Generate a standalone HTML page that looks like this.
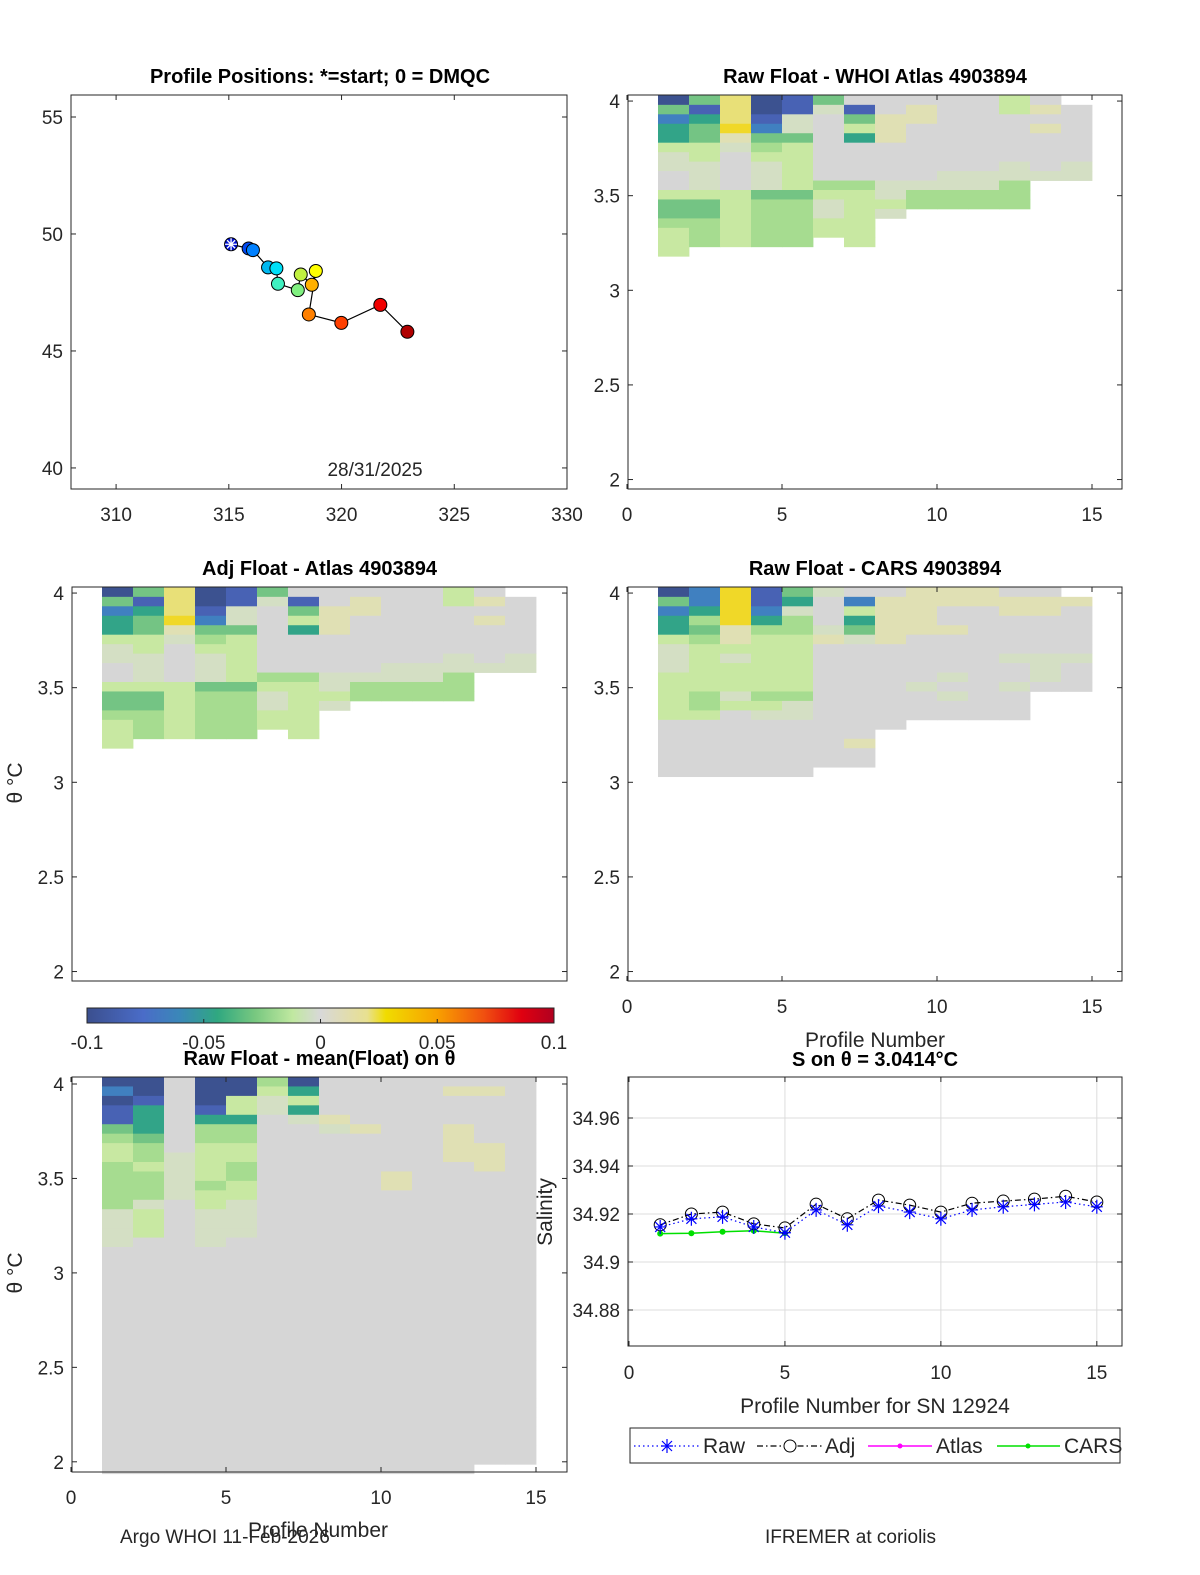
<!DOCTYPE html>
<html><head><meta charset="utf-8"><style>
html,body{margin:0;padding:0;background:#fff;width:1200px;height:1575px;overflow:hidden}
svg{display:block;font-family:"Liberation Sans","DejaVu Sans",sans-serif}
.tk{font-size:19px;fill:#262626}
.ti{font-size:20px;font-weight:bold;fill:#000}
.lb{font-size:21px;fill:#262626}
</style></head><body>
<svg id="fig" width="1200" height="1575" viewBox="0 0 1200 1575" xmlns="http://www.w3.org/2000/svg">
<defs>
<linearGradient id="cbg" x1="0" x2="1" y1="0" y2="0">
<stop offset="0" stop-color="#3b4f8e"/><stop offset="0.12" stop-color="#4a6cc8"/><stop offset="0.2" stop-color="#3a88b8"/><stop offset="0.28" stop-color="#30a880"/><stop offset="0.36" stop-color="#78c880"/><stop offset="0.44" stop-color="#c0e8a0"/><stop offset="0.5" stop-color="#d8d8d8"/><stop offset="0.6" stop-color="#e8e090"/><stop offset="0.64" stop-color="#f0dc00"/><stop offset="0.75" stop-color="#f8a000"/><stop offset="0.85" stop-color="#f05010"/><stop offset="0.93" stop-color="#e00010"/><stop offset="1" stop-color="#b00020"/>
</linearGradient>
</defs>
<g id="layer"></g>
</svg>
<script>
// ---------- data ----------
const trackLon = [315.10,315.88,316.07,316.74,317.11,317.18,318.06,318.19,318.86,318.68,318.55,319.99,321.72,322.92];
const trackLat = [49.56,49.38,49.31,48.57,48.53,47.87,47.60,48.27,48.42,47.83,46.56,46.20,46.97,45.82];
const trackColors = ['#0010d0','#0048f0','#0080ff','#00b8f0','#00e0f8','#40f0c0','#80f080','#c0f040','#ffff00','#ffb000','#ff8000','#ff4000','#f00000','#b00000'];
const lonTicks = [310,315,320,325,330];
const latTicks = [40,45,50,55];
const thetaTicks = [2,2.5,3,3.5,4];
const thetaTickLabels = ['2','2.5','3','3.5','4'];
const profTicks = [0,5,10,15];
const atlasCols = ['DGbTTlppqqlGGglll','GBTGGllppplGGggg','YYYSypqqqqllllll','DDBbGglpppGggggg','BBppGlllllGggggg','Gpqqqqqqqglppll','qBGlTqqqqgllllll','qqyyyqqqqpplp','qyyqqqqqqpgg','qqqqqqqqppgg','qqqqqqqqppgg','llqqqqqppggg','qyqyqqqqp','_qqqqqqpp'];
const carsCols = ['DGbTTlppplllllqqqqqq','bbTgGglllllgglqqqqqq','SSSSyylplllplqqqqqqq','BBbTgllllllglpqqqqqq','GTpggllllllgppqqqqqq','pqqqpyqqqqqqqqqqqqq','qblTGpqqqqqqqqqqyqq','qyyyyyqqqqqqqqq','yyyyyqqqqqpqqq','yyqqyqqqqpqpqq','yyqqqqqqqqqqqq','qyyqqqqpqqpqqq','qyyqqqqpppq','_yqqqqqpqqq'];
const meanColsTop = ['DbDBBGgllgggggppppq','DDBTTTGgglgggplllq','qqqqqqqqppppp','DDDBTggllllgllpppp','DDllTggllggllpppp','glppqq','DTlTpq','qqqqypq','qqqqqy','qqqqqqqqqqyy','qqqqq','qyqqqyyyyq','qyqqqqqyyyq','qqqqqqqqqq'];
const meanColsLen = [42,42,42,42,42,42,42,42,42,42,42,42,41,41];
const profiles = [1,2,3,4,5,6,7,8,9,10,11,12,13,14,15];
const rawSal = [34.9146,34.918,34.9188,34.9146,34.9122,34.9217,34.9155,34.9233,34.9208,34.918,34.9217,34.923,34.924,34.925,34.923];
const adjSal = [34.9155,34.920,34.9208,34.9159,34.9142,34.9241,34.918,34.9258,34.9237,34.9208,34.9245,34.9254,34.9262,34.9274,34.925];
const carsSal = [34.9118,34.912,34.9126,34.913,34.912];
const salTicks = [34.88,34.9,34.92,34.94,34.96];
const salTickLabels = ['34.88','34.9','34.92','34.94','34.96'];
const colorCodes = {D:'#3c5290',B:'#4862b4',b:'#4080c0',T:'#32a488',G:'#74c484',g:'#a6dc90',l:'#c8e8a2',p:'#d4dfc4',q:'#d6d6d6',y:'#e0e0b4',Y:'#e8e078',S:'#f0d828'};

// ---------- helpers ----------
const NS='http://www.w3.org/2000/svg';
const layer=document.getElementById('layer');
function mk(tag,attrs,parent){const e=document.createElementNS(NS,tag);for(const k in attrs)e.setAttribute(k,attrs[k]);(parent||layer).appendChild(e);return e;}
function txt(x,y,s,cls,anchor,parent){const t=mk('text',{x:x,y:y,class:cls,'text-anchor':anchor||'middle'},parent);t.textContent=s;return t;}
function lin(d0,d1,r0,r1){return v=>r0+(v-d0)*(r1-r0)/(d1-d0);}

function axesBox(x0,y0,x1,y1,name){
  const g=mk('g',{});
  
  
  mk('rect',{x:x0,y:y0,width:x1-x0,height:y1-y0,fill:'none',stroke:'#262626','stroke-width':1},g);
  return g;
}
function yTicks(g,x0,x1,ys,labels,sy,name){
  ys.forEach((v,i)=>{const y=sy(v);
    mk('line',{x1:x0,x2:x0+5,y1:y,y2:y,stroke:'#262626'},g);
    mk('line',{x1:x1,x2:x1-5,y1:y,y2:y,stroke:'#262626'},g);
    const t=txt(x0-8,y+7,labels[i],'tk','end',g);
    
    
  });
}
function xTicks(g,y0,y1,xs,sx,ly,name){
  xs.forEach(v=>{const x=sx(v);
    mk('line',{x1:x,x2:x,y1:y1,y2:y1-5,stroke:'#262626'},g);
    mk('line',{x1:x,x2:x,y1:y0,y2:y0+5,stroke:'#262626'},g);
    const t=txt(x,ly,String(v),'tk','middle',g);
    
    
  });
}
function heat(g,cols,sx,sy,top,lens,name){
  cols.forEach((col,i)=>{
    const n=lens?lens[i]:col.length;
    for(let r=0;r<n;r++){
      const c=r<col.length?col[r]:'q';
      if(c==='_')continue;
      const x0=sx(i+1),x1=sx(i+2),ya=sy(top-0.05*r),yb=sy(top-0.05*(r+1));
      const rc=mk('rect',{x:x0,y:ya,width:x1-x0+0.4,height:yb-ya+0.4,fill:colorCodes[c]},g);
      
      
    }
  });
}

// ---------- panel 1 ----------
{
  const sx=lin(308,330,71,567), sy=lin(39.1,55.94,489,95);
  const g=axesBox(71,95,567,489,'positions-axes');
  xTicks(g,95,489,lonTicks,sx,521,'lon');
  yTicks(g,71,567,latTicks,latTicks.map(String),sy,'lat');
  let d='';
  const order=[0,1,2,3,4,5,6,7,9,8,10,11,12,13];
  order.forEach((k,i)=>{d+=(i?'L':'M')+sx(trackLon[k])+' '+sy(trackLat[k]);});
  const p=mk('path',{d:d,fill:'none',stroke:'#000','stroke-width':1.2},g);
  
  
  trackLon.forEach((lo,i)=>{
    const c=mk('circle',{cx:sx(lo),cy:sy(trackLat[i]),r:6.5,fill:trackColors[i],stroke:'#000','stroke-width':1},g);
    
    
  });
  const cx=sx(trackLon[0]),cy=sy(trackLat[0]);
  mk('path',{d:`M${cx-6} ${cy}H${cx+6}M${cx} ${cy-6}V${cy+6}M${cx-4} ${cy-4}L${cx+4} ${cy+4}M${cx-4} ${cy+4}L${cx+4} ${cy-4}`,stroke:'#fff','stroke-width':1.3},g);
  const dt=txt(375,476,'28/31/2025','tk','middle',g);
  
  
  const t=txt(320,83,'Profile Positions: *=start; 0 = DMQC','ti','middle');
  
  
}

// ---------- heatmap panels ----------
function heatPanel(x0,y0,x1,y1,cols,title,name,xlabY,lens,th0,th1,top){
  const sy=lin(th1,th0,y0,y1);
  const sxx=lin(0,16,x0-1,x0-1+496);
  const g=axesBox(x0,y0,x1,y1,name+'-axes');
  heat(g,cols,sxx,sy,top,lens,name);
  mk('rect',{x:x0,y:y0,width:x1-x0,height:y1-y0,fill:'none',stroke:'#262626','stroke-width':1},g);
  yTicks(g,x0,x1,thetaTicks,thetaTickLabels,sy,name+'-theta');
  if(xlabY) xTicks(g,y0,y1,profTicks,sxx,xlabY,name+'-profile');
  const t=txt((x0+x1)/2,y0-12,title,'ti','middle');
  
  
  return g;
}
heatPanel(628,95,1122,489,atlasCols,'Raw Float - WHOI Atlas  4903894','raw-atlas',521,null,1.95,4.032,4.03);
heatPanel(72,587,567,981,atlasCols,'Adj Float - Atlas  4903894','adj-atlas',0,null,1.95,4.032,4.03);
heatPanel(628,587,1122,981,carsCols,'Raw Float - CARS  4903894','raw-cars',1013,null,1.95,4.032,4.03);
heatPanel(72,1077,567,1472,meanColsTop,'Raw Float - mean(Float) on θ','raw-mean',1504,meanColsLen,1.946,4.037,4.037);

[[22,783],[22,1273]].forEach(p=>{
  const t=txt(p[0],p[1],'θ °C','lb','middle');
  t.setAttribute('transform',`rotate(-90 ${p[0]} ${p[1]})`);
  
  
});
{
  const t1=txt(875,1047,'Profile Number','lb','middle');
  
  
  const t2=txt(318,1537,'Profile Number','lb','middle');
  
  
}

// ---------- colorbar ----------
{
  const g=mk('g',{});
  
  
  mk('rect',{x:87,y:1008,width:467,height:15,fill:'url(#cbg)',stroke:'#262626','stroke-width':1},g);
  const cbTicks=[-0.1,-0.05,0,0.05,0.1], cbLabels=['-0.1','-0.05','0','0.05','0.1'];
  const sc=lin(-0.1,0.1,87,554);
  cbTicks.forEach((v,i)=>{
    mk('line',{x1:sc(v),x2:sc(v),y1:1023,y2:1019,stroke:'#262626'},g);
    const t=txt(sc(v),1049,cbLabels[i],'tk','middle',g);
    t.setAttribute('font-size','17');
    
    
  });
}

// ---------- salinity panel ----------
{
  const x0=628,y0=1077,x1=1122,y1=1346;
  const sx=lin(0,16,629,1128), sy=lin(34.92,34.94,1214,1166);
  const g=axesBox(x0,y0,x1,y1,'salinity-axes');
  profTicks.forEach(v=>mk('line',{x1:sx(v),x2:sx(v),y1:y0,y2:y1,stroke:'#dcdcdc'},g));
  salTicks.forEach(v=>mk('line',{x1:x0,x2:x1,y1:sy(v),y2:sy(v),stroke:'#dcdcdc'},g));
  mk('rect',{x:x0,y:y0,width:x1-x0,height:y1-y0,fill:'none',stroke:'#262626'},g);
  yTicks(g,x0,x1,salTicks,salTickLabels,sy,'salinity');
  xTicks(g,y0,y1,profTicks,sx,1379,'sal-profile');
  const path=(xs,ys)=>xs.map((x,i)=>(i?'L':'M')+sx(x)+' '+sy(ys[i])).join('');
  const cp=mk('path',{d:path(profiles.slice(0,carsSal.length),carsSal),fill:'none',stroke:'#00e000','stroke-width':1.5},g);
  
  
  carsSal.forEach((v,i)=>{const c=mk('circle',{cx:sx(profiles[i]),cy:sy(v),r:3,fill:'#00e000'},g);
    });
  const ap=mk('path',{d:path(profiles,adjSal),fill:'none',stroke:'#000','stroke-width':1.2,'stroke-dasharray':'6 3 1.5 3'},g);
  
  
  adjSal.forEach((v,i)=>{const c=mk('circle',{cx:sx(profiles[i]),cy:sy(v),r:6,fill:'none',stroke:'#000'},g);
    });
  const rp=mk('path',{d:path(profiles,rawSal),fill:'none',stroke:'#0000ff','stroke-width':1.2,'stroke-dasharray':'1.5 3'},g);
  
  
  rawSal.forEach((v,i)=>{const x=sx(profiles[i]),y=sy(v);
    const s=mk('path',{d:`M${x-6} ${y}H${x+6}M${x} ${y-7}V${y+7}M${x-5} ${y-5}L${x+5} ${y+5}M${x-5} ${y+5}L${x+5} ${y-5}`,stroke:'#0000ff','stroke-width':1.2},g);
    });
  const t=txt(875,1066,'S on θ = 3.0414°C','ti','middle');
  
  
  const yl=txt(552,1212,'Salinity','lb','middle');
  yl.setAttribute('transform','rotate(-90 552 1212)');
  
  
  const xl=txt(875,1413,'Profile Number for SN 12924','lb','middle');
  
  
  const lg=mk('g',{});
  
  
  mk('rect',{x:630,y:1428,width:490,height:35,fill:'#fff',stroke:'#262626'},lg);
  mk('line',{x1:634,x2:700,y1:1446,y2:1446,stroke:'#0000ff','stroke-dasharray':'1.5 3','stroke-width':1.2},lg);
  mk('path',{d:'M661 1446H673M667 1439V1453M662 1441L672 1451M662 1451L672 1441',stroke:'#0000ff','stroke-width':1.2},lg);
  const l1=txt(703,1453,'Raw','lb','start',lg);l1.setAttribute('font-size','20');
  mk('line',{x1:757,x2:823,y1:1446,y2:1446,stroke:'#000','stroke-dasharray':'6 3 1.5 3','stroke-width':1.2},lg);
  mk('circle',{cx:790,cy:1446,r:6,fill:'#fff',stroke:'#000'},lg);
  const l2=txt(825,1453,'Adj','lb','start',lg);l2.setAttribute('font-size','20');
  mk('line',{x1:868,x2:932,y1:1446,y2:1446,stroke:'#ff00ff','stroke-width':1.5},lg);
  mk('circle',{cx:900,cy:1446,r:2.5,fill:'#ff00ff'},lg);
  const l3=txt(936,1453,'Atlas','lb','start',lg);l3.setAttribute('font-size','20');
  mk('line',{x1:997,x2:1060,y1:1446,y2:1446,stroke:'#00e000','stroke-width':1.5},lg);
  mk('circle',{cx:1028,cy:1446,r:2.5,fill:'#00e000'},lg);
  const l4=txt(1064,1453,'CARS','lb','start',lg);l4.setAttribute('font-size','20');
}

{
  const f1=txt(120,1543,'Argo WHOI 11-Feb-2026','tk','start');
  f1.setAttribute('font-size','15');
  
  
  const f2=txt(765,1543,'IFREMER at coriolis','tk','start');
  f2.setAttribute('font-size','15');
  
  
}
</script>
</body></html>
